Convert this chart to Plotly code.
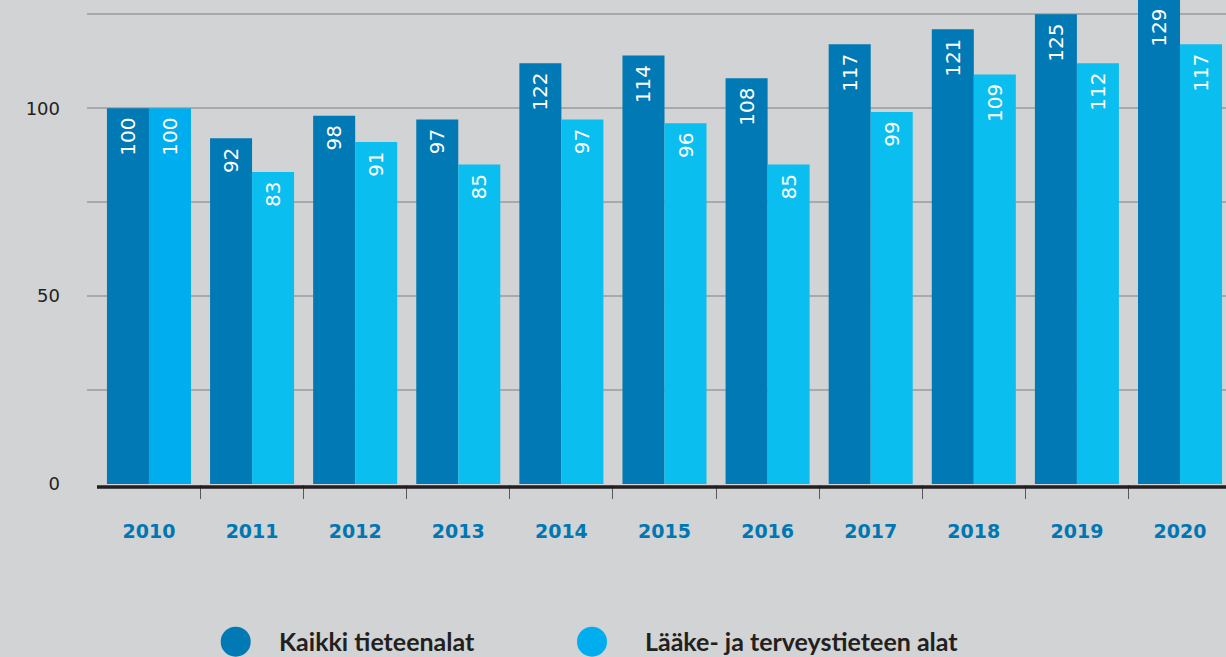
import plotly.graph_objects as go

# ---- data ----
years = ["2010", "2011", "2012", "2013", "2014", "2015", "2016", "2017", "2018", "2019", "2020"]
kaikki_values = [100, 92, 98, 97, 112, 114, 108, 117, 121, 125, 129]
kaikki_labels = ["100", "92", "98", "97", "122", "114", "108", "117", "121", "125", "129"]
laake_values = [100, 83, 91, 85, 97, 96, 85, 99, 109, 112, 117]
laake_labels = ["100", "83", "91", "85", "97", "96", "85", "99", "109", "112", "117"]
series_names = ["Kaikki tieteenalat", "Lääke- ja terveystieteen alat"]
y_tickvals = [0, 25, 50, 75, 100, 125]
y_ticktext = ["0", "", "50", "", "100", ""]

# ---- style ----
BG = "#d1d3d4"
DARK = "#0079b4"
LIGHT = "#0bbef0"
LIGHT_FIRST = "#00aeef"
GRID = "#a7a9ac"
TXT = "#231f20"
YEARC = "#0077b3"

W, H = 1226, 657
ML, MR, MT, MB = 87, 0, 0, 173
XR = [-0.601, 10.446]
YR = [0, 128.8]

label_font = dict(family="DejaVu Sans", size=20, color="white")

fig = go.Figure()
fig.add_trace(go.Bar(
    x=years, y=kaikki_values, name=series_names[0],
    marker=dict(color=DARK, line=dict(width=0)),
    text=[t + "\u00a0" for t in kaikki_labels],
    textposition="inside", insidetextanchor="end", textangle=-90,
    insidetextfont=label_font, showlegend=False, hoverinfo="x+y",
))
fig.add_trace(go.Bar(
    x=years, y=laake_values, name=series_names[1],
    marker=dict(color=[LIGHT_FIRST] + [LIGHT] * (len(years) - 1), line=dict(width=0)),
    text=[t + "\u00a0" for t in laake_labels],
    textposition="inside", insidetextanchor="end", textangle=-90,
    insidetextfont=label_font, showlegend=False, hoverinfo="x+y",
))
# invisible trace to carry the boundary-tick axis
boundaries = [i + 0.5 for i in range(len(years) - 1)]
fig.add_trace(go.Scatter(x=[boundaries[0]], y=[0], xaxis="x2", yaxis="y",
                         mode="markers", marker=dict(opacity=0), showlegend=False,
                         hoverinfo="skip"))

fig.update_layout(
    width=W, height=H,
    margin=dict(l=ML, r=MR, t=MT, b=MB, pad=0),
    paper_bgcolor=BG, plot_bgcolor=BG,
    barmode="group", bargap=0.185, bargroupgap=0,
    xaxis=dict(
        type="category", range=XR, showgrid=False, zeroline=False, showline=False,
        ticks="", tickfont=dict(family="DejaVu Sans", size=19, color=YEARC, weight="bold"),
        ticklabelstandoff=34,
    ),
    xaxis2=dict(
        overlaying="x", anchor="y", side="bottom", type="linear", range=XR,
        tickmode="array", tickvals=boundaries, showticklabels=False,
        ticks="outside", ticklen=14, tickwidth=1.2, tickcolor="#58595b",
        showgrid=False, zeroline=False, showline=False,
    ),
    yaxis=dict(
        range=YR, tickmode="array", tickvals=y_tickvals, ticktext=y_ticktext,
        showgrid=True, gridcolor=GRID, gridwidth=1.5, zeroline=False, showline=False,
        ticks="", tickfont=dict(family="DejaVu Sans", size=18, color=TXT),
        ticklabelstandoff=26,
    ),
    font=dict(family="DejaVu Sans", color=TXT),
)

plot_w = W - ML - MR
plot_h = H - MT - MB
def px_x(px):
    return (px - ML) / plot_w
def px_y(py):
    return (H - MB - py) / plot_h

# x axis base line
fig.add_shape(type="line", xref="paper", yref="paper", x0=px_x(97), x1=1,
              y0=px_y(487), y1=px_y(487), line=dict(color=TXT, width=3.5), layer="above")

# ---- legend (manual) ----
legend_items = [(series_names[0], DARK, 235.7, 276.7), (series_names[1], LIGHT_FIRST, 592, 642.7)]
for name, col, cx, tx in legend_items:
    fig.add_shape(type="circle", xref="paper", yref="paper",
                  xsizemode="pixel", ysizemode="pixel",
                  xanchor=px_x(cx), yanchor=px_y(641.7),
                  x0=-15, x1=15, y0=-15, y1=15,
                  fillcolor=col, line=dict(width=0))
    fig.add_annotation(text=name, xref="paper", yref="paper", x=px_x(tx), y=px_y(641),
                       xanchor="left", yanchor="middle", showarrow=False,
                       font=dict(family="Lato", size=25, color=TXT, weight="bold"))

fig.write_html("out.html", config={"displayModeBar": False},
               post_script="document.body.style.margin='0';document.body.style.overflow='hidden';")
